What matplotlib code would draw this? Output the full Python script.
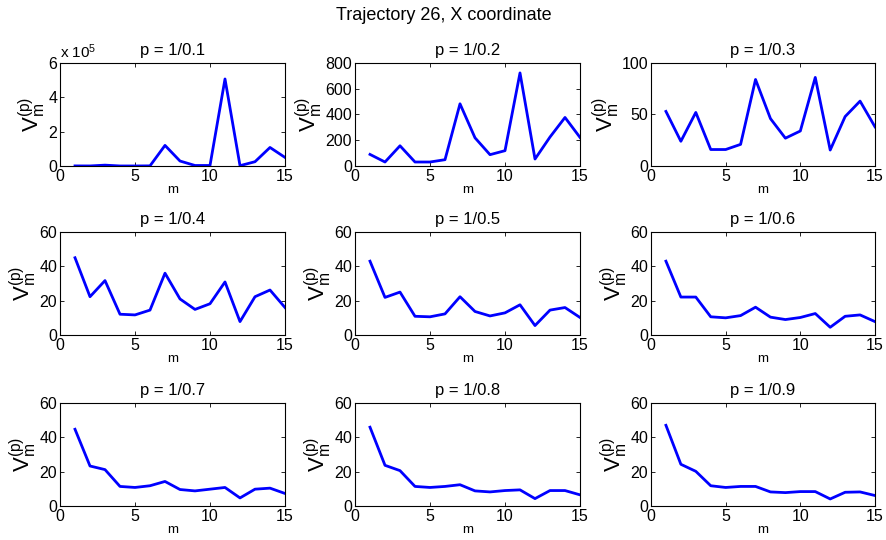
import numpy as np
import matplotlib
matplotlib.use("Agg")
import matplotlib.pyplot as plt
from matplotlib.ticker import FuncFormatter

plt.rcParams['font.family'] = ['Liberation Sans', 'DejaVu Sans']
plt.rcParams['mathtext.fontset'] = 'custom'
plt.rcParams['mathtext.rm'] = 'Liberation Sans'
plt.rcParams['mathtext.it'] = 'Liberation Sans'
plt.rcParams['mathtext.bf'] = 'Liberation Sans'

m = np.arange(1, 16)

p_labels = ["1/0.1", "1/0.2", "1/0.3", "1/0.4", "1/0.5", "1/0.6", "1/0.7", "1/0.8", "1/0.9"]

v_p01 = [500, 300, 5000, 200, 200, 800, 120000, 29000, 3000, 3000, 507000, 2000, 25000, 108000, 50000]
v_p02 = [90, 31, 157, 31, 31, 49, 483, 219, 88, 119, 723, 54, 225, 377, 222]
v_p03 = [53, 24, 52, 16, 16, 21, 84, 46, 27, 34, 86, 15.5, 48, 63, 38]
v_p04 = [45, 22.3, 31.7, 12.1, 11.7, 14.5, 36, 21, 14.9, 18.2, 30.9, 7.8, 22.3, 26.2, 16]
v_p05 = [43, 21.9, 25, 10.9, 10.6, 12.3, 22.3, 13.7, 11.1, 12.9, 17.6, 5.5, 14.5, 16, 10.2]
v_p06 = [43, 22.1, 22.1, 10.6, 10, 11.3, 16.2, 10.4, 9, 10.2, 12.5, 4.5, 10.9, 11.7, 7.8]
v_p07 = [44.7, 23.3, 21.2, 11.4, 10.8, 11.8, 14.3, 9.6, 8.8, 9.8, 10.8, 4.7, 9.8, 10.4, 7.3]
v_p08 = [45.9, 23.7, 20.6, 11.4, 10.8, 11.4, 12.4, 8.8, 8.2, 9.0, 9.4, 4.3, 9.0, 9.0, 6.5]
v_p09 = [47, 24.3, 20.2, 11.8, 10.8, 11.4, 11.4, 8.2, 7.8, 8.4, 8.4, 4.1, 8.0, 8.2, 6.1]

series = [v_p01, v_p02, v_p03, v_p04, v_p05, v_p06, v_p07, v_p08, v_p09]

y_limits = [(0, 6e5), (0, 800), (0, 100), (0, 60), (0, 60), (0, 60), (0, 60), (0, 60), (0, 60)]
y_ticks = [[0, 2e5, 4e5, 6e5], [0, 200, 400, 600, 800], [0, 50, 100],
           [0, 20, 40, 60], [0, 20, 40, 60], [0, 20, 40, 60],
           [0, 20, 40, 60], [0, 20, 40, 60], [0, 20, 40, 60]]

W, H = 887, 540
fig = plt.figure(figsize=(W / 100, H / 100), dpi=100)

lefts = [60, 355, 651]
rights = [285, 580, 875]
tops = [63, 232, 403]
bottoms = [166, 335, 506]

fig.suptitle("Trajectory 26, X coordinate", y=1 - 15 / H, va='center', fontsize=13)

for i in range(9):
    r, c = divmod(i, 3)
    ax = fig.add_axes([lefts[c] / W, 1 - bottoms[r] / H,
                       (rights[c] - lefts[c]) / W, (bottoms[r] - tops[r]) / H])
    ax.plot(m, series[i], color=(0, 0, 1), lw=2.0)
    ax.set_xlim(0, 15)
    ax.set_ylim(*y_limits[i])
    ax.set_xticks([0, 5, 10, 15])
    ax.set_yticks(y_ticks[i])
    ax.tick_params(direction='in', top=True, right=True, length=3, width=0.6,
                   labelsize=11.5, pad=2)
    for s in ax.spines.values():
        s.set_linewidth(0.8)
    ax.set_title("p = " + p_labels[i], fontsize=12, pad=6)
    ax.set_xlabel("m", fontsize=9.5, labelpad=0)
    ax.set_ylabel(r"$\mathrm{V}_{\mathrm{m}}^{(\mathrm{p})}$", fontsize=16, labelpad=0)
    if i == 0:
        ax.yaxis.set_major_formatter(FuncFormatter(lambda v, pos: f"{v / 1e5:g}"))
        ax.text(0.0, 1.02, r"x 10$^{5}$", transform=ax.transAxes, fontsize=11,
                ha='left', va='bottom')

fig.savefig("out.png", dpi=100)
